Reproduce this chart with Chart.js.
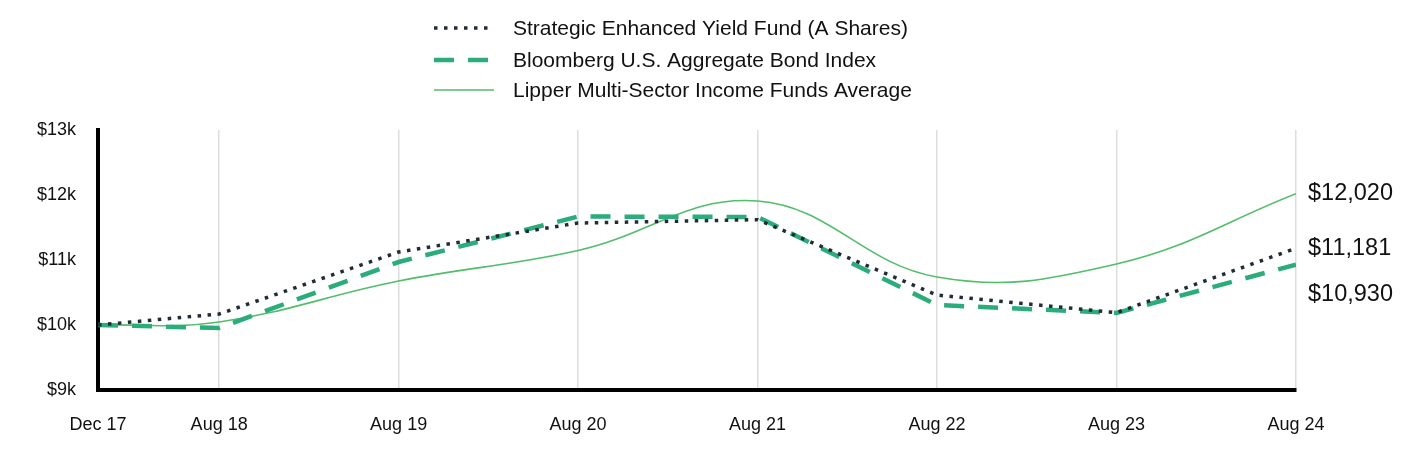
<!DOCTYPE html>
<html>
<head>
<meta charset="utf-8">
<script src="https://cdn.jsdelivr.net/npm/chart.js@4/dist/chart.umd.min.js"></script>
<style>
html,body{margin:0;padding:0;background:#fff;}
#wrap{width:1428px;height:468px;position:relative;}
</style>
</head>
<body>
<div id="wrap"><canvas id="c" width="1428" height="468"></canvas></div>
<script>
// Months since the Dec 2017 start date for each category
const monthsSinceStart = [0, 8.1, 20.1, 32.1, 44.1, 56.1, 68.1, 80.1];
const categories = ["Dec 17", "Aug 18", "Aug 19", "Aug 20", "Aug 21", "Aug 22", "Aug 23", "Aug 24"];
const fundValues = [10000, 10169, 11123, 11569, 11620, 10460, 10190, 11181];
const bloombergValues = [10000, 9954, 10969, 11669, 11662, 10308, 10185, 10930];
const lipperValues = [10000, 10046, 10677, 11146, 11908, 10738, 10938, 12020];
const seriesNames = [
  "Strategic Enhanced Yield Fund (A Shares)",
  "Bloomberg U.S. Aggregate Bond Index",
  "Lipper Multi-Sector Income Funds Average"
];
const yTicks = [9000, 10000, 11000, 12000, 13000];
const endLabels = ["$12,020", "$11,181", "$10,930"];

const FONT = "'Liberation Sans', Arial, sans-serif";
const colFund = "#222b38";
const colBloom = "#2aac7b";
const colLipper = "#52bd6a";

function pts(vals){ return vals.map((v,i)=>({x: monthsSinceStart[i], y: v})); }

const legendPlugin = {
  id: 'customLegend',
  afterDraw(chart){
    const ctx = chart.ctx;
    const ds = chart.data.datasets;
    const rows = [28, 60, 90];
    ctx.save();
    ds.forEach((d, i) => {
      const y = rows[i];
      ctx.beginPath();
      ctx.strokeStyle = d.borderColor;
      ctx.lineWidth = d.borderWidth;
      ctx.setLineDash(d.borderDash || []);
      ctx.lineCap = 'butt';
      ctx.moveTo(434, y);
      ctx.lineTo(494, y);
      ctx.stroke();
      ctx.setLineDash([]);
      ctx.fillStyle = '#111';
      ctx.font = "21px " + FONT;
      ctx.textBaseline = 'middle';
      ctx.textAlign = 'left';
      ctx.fillText(d.label, 513, y + 1);
    });
    ctx.restore();
  }
};

const endLabelPlugin = {
  id: 'endLabels',
  afterDraw(chart){
    const ctx = chart.ctx;
    const ys = chart.scales.y;
    const area = chart.chartArea;
    // order: lipper, fund, bloomberg
    const order = [2, 0, 1];
    const items = order.map((di, k) => {
      const data = chart.data.datasets[di].data;
      const last = data[data.length - 1].y;
      return {text: endLabels[k], y: ys.getPixelForValue(last)};
    });
    items.sort((a,b)=>a.y-b.y);
    const gap = 46.5;
    for (let i = 1; i < items.length; i++) {
      if (items[i].y - items[i-1].y < gap) items[i].y = items[i-1].y + gap;
    }
    ctx.save();
    ctx.fillStyle = '#111';
    ctx.font = "23.5px " + FONT;
    ctx.textBaseline = 'middle';
    ctx.textAlign = 'left';
    items.forEach(it => ctx.fillText(it.text, area.right + 12, it.y));
    ctx.restore();
  }
};

new Chart(document.getElementById('c'), {
  type: 'line',
  data: {
    datasets: [
      {
        label: seriesNames[0],
        data: pts(fundValues),
        borderColor: colFund,
        borderWidth: 3.5,
        borderDash: [3.5, 6.5],
        tension: 0,
        pointRadius: 0,
        fill: false,
        order: 0
      },
      {
        label: seriesNames[1],
        data: pts(bloombergValues),
        borderColor: colBloom,
        borderWidth: 4.5,
        borderDash: [20, 14],
        tension: 0,
        pointRadius: 0,
        fill: false,
        order: 1
      },
      {
        label: seriesNames[2],
        data: pts(lipperValues),
        borderColor: colLipper,
        borderWidth: 1.6,
        tension: 0.4,
        pointRadius: 0,
        fill: false,
        order: 2
      }
    ]
  },
  options: {
    responsive: false,
    animation: false,
    events: [],
    layout: { padding: { top: 130, right: 132, left: 0, bottom: 0 } },
    plugins: { legend: { display: false }, tooltip: { enabled: false } },
    scales: {
      x: {
        type: 'linear',
        min: monthsSinceStart[0],
        max: monthsSinceStart[monthsSinceStart.length - 1],
        afterBuildTicks(scale){ scale.ticks = monthsSinceStart.map(v => ({value: v})); },
        afterFit(scale){ scale.height = 78; },
        ticks: {
          autoSkip: false,
          maxRotation: 0,
          padding: 24,
          color: '#111',
          font: { family: FONT, size: 18 },
          callback(v){ const i = monthsSinceStart.indexOf(v); return i >= 0 ? categories[i] : ''; }
        },
        grid: { display: true, color: '#dddddd', lineWidth: 1.5, drawTicks: false },
        border: { display: true, color: '#000', width: 4 }
      },
      y: {
        min: 9000,
        max: 13000,
        afterBuildTicks(scale){ scale.ticks = yTicks.map(v => ({value: v})); },
        afterFit(scale){ scale.width = 98; },
        ticks: {
          padding: 22,
          color: '#111',
          font: { family: FONT, size: 18 },
          callback(v){ return '$' + (v/1000) + 'k'; }
        },
        grid: { display: false, drawTicks: false },
        border: { display: true, color: '#000', width: 4 }
      }
    }
  },
  plugins: [legendPlugin, endLabelPlugin]
});
</script>
</body>
</html>
